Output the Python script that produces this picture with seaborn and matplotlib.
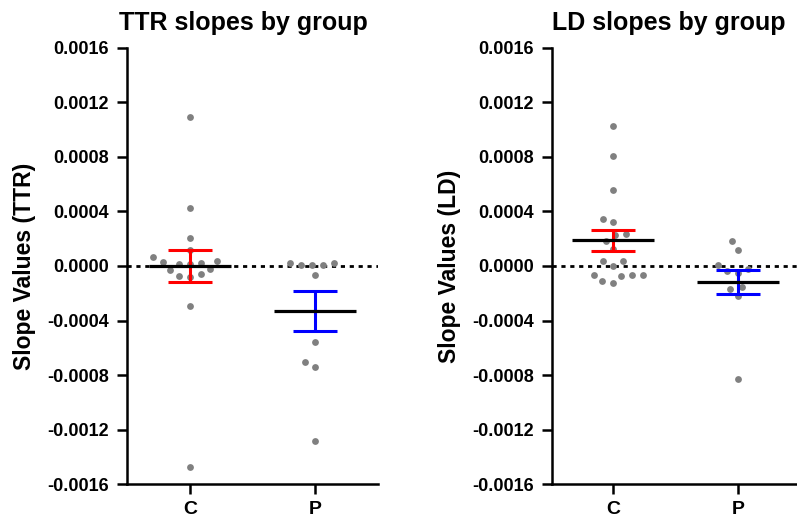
import numpy as np
import pandas as pd
import matplotlib
matplotlib.use("Agg")
import matplotlib.pyplot as plt
import seaborn as sns

# Slope values
groups = ["C", "P"]

ttr_c = [0.001091, 0.000428, 0.000203, 0.000117, 0.000035, 0.000024, -0.000022,
         0.0000125, -0.000061, -0.000078, -0.000071, 0.0000125, -0.000029,
         0.000027, 0.000066, -0.000291, -0.001473]
ttr_p = [0.000024, 0.0000095, 0.0000073, 0.0000095, 0.000024, -0.000066,
         -0.000556, -0.000707, -0.000744, -0.001282]

ld_c = [0.001025, 0.000807, 0.000555, 0.000325, 0.000347, 0.000232, 0.000228,
        0.000186, 0.000127, 0.000034, 0.000037, 0.000002, -0.000064, -0.000071,
        -0.000122, -0.000112, -0.000066, -0.000064]
ld_p = [0.000183, 0.00012, 0.0000095, -0.0000345, -0.000054, -0.000024,
        -0.000152, -0.000171, -0.000223, -0.000832]

yticks = [-0.0016, -0.0012, -0.0008, -0.0004, 0.0, 0.0004, 0.0008, 0.0012, 0.0016]
bar_colors = ["#ff0000", "#0000ff"]

sns.set_style("ticks")
plt.rcParams['font.family'] = ['Liberation Sans', 'DejaVu Sans']
plt.rcParams['font.weight'] = 'bold'
plt.rcParams['axes.unicode_minus'] = False
plt.rcParams['text.color'] = 'black'
plt.rcParams['axes.labelcolor'] = 'black'
plt.rcParams['xtick.color'] = 'black'
plt.rcParams['ytick.color'] = 'black'


def long_frame(c_vals, p_vals):
    return pd.DataFrame({
        "group": ["C"] * len(c_vals) + ["P"] * len(p_vals),
        "slope": list(c_vals) + list(p_vals),
    })


def draw_panel(ax, c_vals, p_vals, title, ylabel, xlim, title_x):
    df = long_frame(c_vals, p_vals)
    ax.axhline(0, color="black", linestyle=(0, (1.5, 1.7)), linewidth=2, zorder=1)
    # transparent edge widens the swarm spacing without enlarging the dots
    sns.swarmplot(data=df, x="group", y="slope", order=groups, color="#808080",
                  size=4.9, linewidth=2.6, edgecolor=(1, 1, 1, 0), ax=ax, zorder=2)

    for i, vals in enumerate([c_vals, p_vals]):
        vals = np.asarray(vals)
        mean = vals.mean()
        sem = vals.std(ddof=1) / np.sqrt(len(vals))
        ax.errorbar(i, mean, yerr=sem, fmt="none", ecolor=bar_colors[i],
                    elinewidth=2.2, capsize=15.8, capthick=2.2, zorder=3)
        ax.hlines(mean, i - 0.33, i + 0.33, color="black", linewidth=2.3, zorder=4)

    ax.set_xlim(*xlim)
    ax.set_ylim(-0.0016, 0.0016)
    ax.set_yticks(yticks)
    ax.set_yticklabels([f"{v:.4f}" if v != 0 else "0.0000" for v in yticks])
    ax.set_xlabel("")
    ax.set_ylabel(ylabel, fontsize=16.5, fontweight="bold", labelpad=8)
    ax.set_title(title, fontsize=18, fontweight="bold", x=title_x, pad=13)

    for side in ["top", "right"]:
        ax.spines[side].set_visible(False)
    for side in ["left", "bottom"]:
        ax.spines[side].set_linewidth(1.8)
        ax.spines[side].set_color("black")
    ax.tick_params(axis="both", width=1.8, length=7.5, color="black")
    ax.tick_params(axis="y", labelsize=13, pad=5.5)
    ax.tick_params(axis="x", labelsize=14, pad=5)
    for lbl in ax.get_xticklabels() + ax.get_yticklabels():
        lbl.set_fontweight("bold")


fig = plt.figure(figsize=(7.97, 5.17), dpi=100)
ax1 = fig.add_axes([0.1593, 0.0638, 0.315, 0.8434])
ax2 = fig.add_axes([0.6926, 0.0638, 0.3074, 0.8434])

draw_panel(ax1, ttr_c, ttr_p, "TTR slopes by group", "Slope Values (TTR)",
           (-0.504, 1.504), 0.462)
draw_panel(ax2, ld_c, ld_p, "LD slopes by group", "Slope Values (LD)",
           (-0.488, 1.472), 0.476)

fig.savefig("out.png", dpi=100)
